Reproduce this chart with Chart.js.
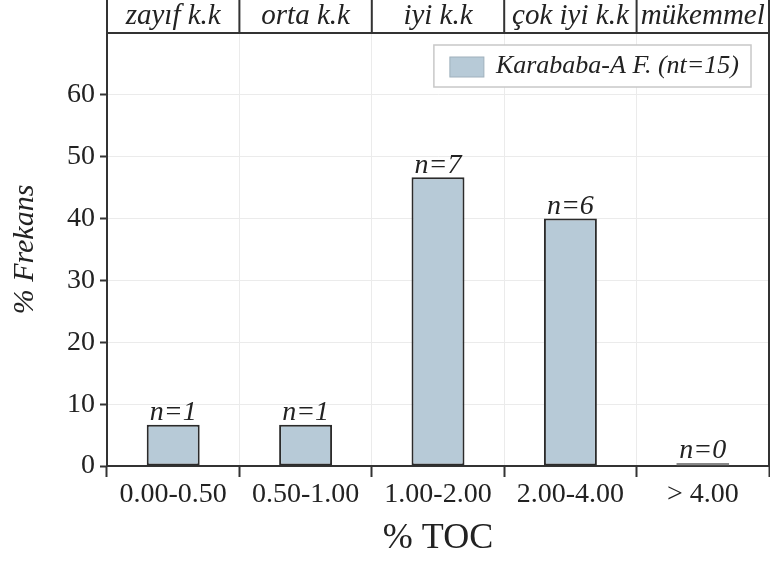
<!DOCTYPE html>
<html>
<head>
<meta charset="utf-8">
<title>% TOC frekans</title>
<script src="https://cdn.jsdelivr.net/npm/chart.js@4.4.1/dist/chart.umd.min.js"></script>
<style>
  html, body { margin: 0; padding: 0; background: #fff; }
  #wrap { width: 770px; height: 562px; }
</style>
</head>
<body>
<div id="wrap"><canvas id="tocChart" width="770" height="562"></canvas></div>
<script>
// TOC classes and frequency (%) of samples in each class
const tocClasses = ['0.00-0.50', '0.50-1.00', '1.00-2.00', '2.00-4.00', '> 4.00'];
const classNames = ['zayıf k.k', 'orta k.k', 'iyi k.k', 'çok iyi k.k', 'mükemmel'];
const frequency = [6.67, 6.67, 46.67, 40.0, 0];
const sampleCounts = [1, 1, 7, 6, 0];
const seriesLabel = 'Karababa-A F. (nt=15)';

const serif = "'Liberation Serif', 'Times New Roman', serif";
const ink = '#222';
const barFill = '#b7cad7';

// class names band above the plot + frame on top/right
const classBand = {
    id: 'classBand',
    afterDraw(chart) {
        const c = chart.ctx;
        const area = chart.chartArea;
        const xs = chart.scales.x;
        const half = (xs.getPixelForValue(1) - xs.getPixelForValue(0)) / 2;
        c.save();
        c.strokeStyle = '#333';
        c.lineWidth = 2;
        c.beginPath();
        c.moveTo(area.left, area.top);
        c.lineTo(area.right, area.top);
        c.lineTo(area.right, area.bottom);
        c.stroke();
        c.beginPath();
        classNames.forEach((name, i) => {
            const x = xs.getPixelForValue(i) - half;
            c.moveTo(x, 0);
            c.lineTo(x, area.top);
        });
        c.moveTo(area.right, 0);
        c.lineTo(area.right, area.top);
        c.stroke();
        c.fillStyle = ink;
        c.font = 'italic 29px ' + serif;
        c.textAlign = 'center';
        c.textBaseline = 'middle';
        classNames.forEach((name, i) => {
            c.fillText(name, xs.getPixelForValue(i), area.top / 2);
        });
        c.restore();
    }
};

// n= labels over bars
const countLabels = {
    id: 'countLabels',
    afterDatasetsDraw(chart) {
        const c = chart.ctx;
        const meta = chart.getDatasetMeta(0);
        c.save();
        c.fillStyle = ink;
        c.font = 'italic 28px ' + serif;
        c.textAlign = 'center';
        c.textBaseline = 'bottom';
        meta.data.forEach((bar, i) => {
            c.fillText('n=' + sampleCounts[i], bar.x, bar.y + 2);
        });
        c.restore();
    }
};

// framed legend in the upper right of the plot
const boxLegend = {
    id: 'boxLegend',
    afterDraw(chart) {
        const c = chart.ctx;
        const area = chart.chartArea;
        const ds = chart.data.datasets[0];
        c.save();
        c.font = 'italic 26px ' + serif;
        const tw = c.measureText(ds.label).width;
        const w = 16 + 34 + 12 + tw + 12;
        const h = 42;
        const x0 = area.right - 18 - w;
        const y0 = area.top + 12;
        c.fillStyle = '#fff';
        c.fillRect(x0, y0, w, h);
        c.strokeStyle = '#c8c8c8';
        c.lineWidth = 1.5;
        c.strokeRect(x0, y0, w, h);
        c.fillStyle = barFill;
        c.fillRect(x0 + 16, y0 + 12, 34, 20);
        c.strokeStyle = '#9fb0bc';
        c.lineWidth = 1;
        c.strokeRect(x0 + 16, y0 + 12, 34, 20);
        c.fillStyle = ink;
        c.textAlign = 'left';
        c.textBaseline = 'middle';
        c.fillText(ds.label, x0 + 62, y0 + h / 2);
        c.restore();
    }
};

new Chart(document.getElementById('tocChart'), {
    type: 'bar',
    data: {
        labels: tocClasses,
        datasets: [{
            label: seriesLabel,
            data: frequency,
            backgroundColor: barFill,
            borderColor: ctx => frequency[ctx.dataIndex] === 0 ? '#888' : '#2b2b2b',
            borderWidth: 2,
            borderSkipped: false,
            minBarLength: 3,
            barPercentage: 0.4,
            categoryPercentage: 1.0,
        }]
    },
    options: {
        responsive: false,
        animation: false,
        devicePixelRatio: 1,
        layout: { padding: { top: 33, right: 1, left: 0, bottom: 0 } },
        plugins: {
            tooltip: { enabled: false },
            legend: { display: false }
        },
        scales: {
            x: {
                offset: true,
                grid: {
                    offset: true,
                    color: '#ebebeb',
                    lineWidth: 1,
                    tickColor: '#333',
                    tickLength: 11,
                    tickWidth: 2,
                },
                border: { color: '#333', width: 2 },
                ticks: {
                    color: ink,
                    font: { family: serif, size: 28 },
                    padding: 1,
                    maxRotation: 0,
                },
                title: {
                    display: true,
                    text: '% TOC',
                    color: ink,
                    font: { family: serif, size: 36 },
                    padding: { top: 2, bottom: 2 },
                },
                afterFit: s => { s.height = 96; },
            },
            y: {
                min: 0,
                max: 70,
                ticks: {
                    stepSize: 10,
                    color: ink,
                    font: { family: serif, size: 28 },
                    padding: 5,
                },
                afterBuildTicks: s => { s.ticks = s.ticks.filter(t => t.value <= 60); },
                grid: {
                    color: '#ebebeb',
                    lineWidth: 1,
                    tickColor: '#333',
                    tickLength: 7,
                    tickWidth: 2,
                },
                border: { color: '#333', width: 2 },
                title: {
                    display: true,
                    text: '% Frekans',
                    color: ink,
                    font: { family: serif, size: 30, style: 'italic' },
                    padding: { top: 7, bottom: 0 },
                },
                afterFit: s => { s.width = 107; },
            }
        }
    },
    plugins: [classBand, countLabels, boxLegend]
});
</script>
</body>
</html>
